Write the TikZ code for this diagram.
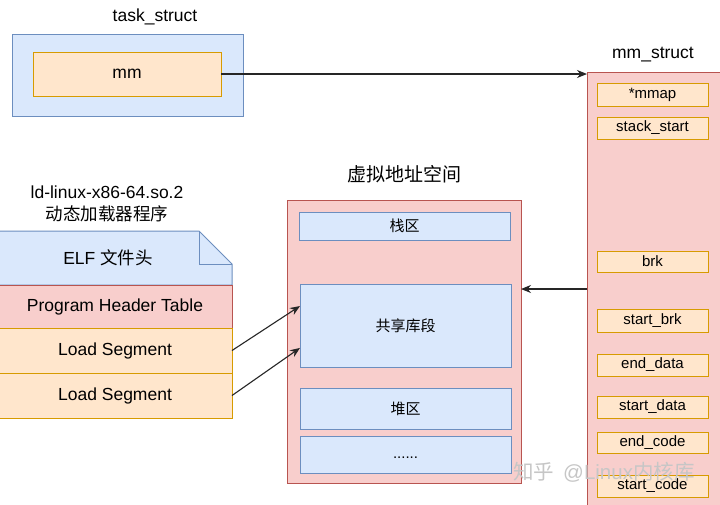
\documentclass[tikz,border=0pt]{standalone}
\usepackage{fontspec}
\setmainfont{Liberation Sans}
\newfontfamily\cjk{Noto Sans CJK SC}
\usetikzlibrary{arrows.meta,calc}
\definecolor{bfill}{HTML}{DAE8FC}
\definecolor{bdraw}{HTML}{6C8EBF}
\definecolor{ofill}{HTML}{FFE6CC}
\definecolor{odraw}{HTML}{D79B00}
\definecolor{rfill}{HTML}{F8CECC}
\definecolor{rdraw}{HTML}{B85450}
\newcommand{\bigtxt}{\fontsize{17.5}{21}\selectfont}
\newcommand{\smalltxt}{\fontsize{15}{18}\selectfont}
\newcommand{\boxat}[7]{\node[#1, minimum width={(#5-#3)*1pt}, minimum height={(#6-#4)*1pt}] (#2) at ({(#3+#5)/2},{(#4+#6)/2}) {#7};}
\newcommand{\wmtext}{{\cjk 知乎}\hspace{9pt}@Linux{\cjk 内核库}}
\begin{document}
\begin{tikzpicture}[x=1pt,y=-1pt,
  base/.style={rectangle, line width=1pt, inner sep=0pt, outer sep=0pt, text=black},
  bbox/.style={base, fill=bfill, draw=bdraw},
  obox/.style={base, fill=ofill, draw=odraw},
  rbox/.style={base, fill=rfill, draw=rdraw},
  lbl/.style={inner sep=0pt, text=black, font=\bigtxt},
  arr/.style={line width=1.1pt, draw=black!85, -{Stealth[length=10pt,width=8pt]}},
  wm/.style={inner sep=0pt, anchor=west, text=gray!45, font=\fontsize{20.5}{24}\selectfont}]
\useasboundingbox (0,0) rectangle (720,504);
\clip (0,0) rectangle (720,504);
\fill[white] (0,0) rectangle (720,504);
% task_struct
\node[lbl] (tslbl) at (155,17) {task\_struct};
\boxat{bbox}{ts}{12}{34}{243}{116}{}
\boxat{obox, font=\bigtxt}{mm}{33}{52}{221}{96}{mm}
% mm_struct
\node[lbl] (mmslbl) at (653,55) {mm\_struct};
\boxat{rbox}{mms}{587}{72}{730}{515}{}
\boxat{obox, font=\smalltxt}{f1}{597}{83}{708}{106}{*mmap}
\boxat{obox, font=\smalltxt}{f2}{597}{117}{708}{139}{stack\_start}
\boxat{obox, font=\smalltxt}{f3}{597}{251}{708}{272}{brk}
\boxat{obox, font=\smalltxt}{f4}{597}{309}{708}{332}{start\_brk}
\boxat{obox, font=\smalltxt}{f5}{597}{354}{708}{376}{end\_data}
\boxat{obox, font=\smalltxt}{f6}{597}{396}{708}{418}{start\_data}
\boxat{obox, font=\smalltxt}{f7}{597}{432}{708}{453}{end\_code}
\boxat{obox, font=\smalltxt}{f8}{597}{475}{708}{497}{start\_code}
% virtual address space
\node[lbl, font=\fontsize{19}{22}\selectfont\cjk] (vaslbl) at (404,174) {虚拟地址空间};
\boxat{rbox}{vas}{287}{200}{521}{483}{}
\boxat{bbox, font=\smalltxt\cjk}{stk}{299}{212}{510}{240}{栈区}
\boxat{bbox, font=\smalltxt\cjk}{shl}{300}{284}{511}{367}{共享库段}
\boxat{bbox, font=\smalltxt\cjk}{heap}{300}{388}{511}{429}{堆区}
\boxat{bbox, font=\smalltxt}{dots}{300}{436}{511}{473}{\vphantom{Ag}......}
% ELF file
\node[lbl] (ldlbl1) at (107,192) {ld-linux-x86-64.so.2};
\node[lbl, font=\bigtxt\cjk] (ldlbl2) at (107,214) {动态加载器程序};
\draw[line width=1pt, fill=bfill, draw=bdraw] (-2,231) -- (199,231) -- (232,264) -- (232,285) -- (-2,285) -- cycle;
\draw[line width=1pt, draw=bdraw] (199,231) -- (199,264) -- (232,264);
\node[lbl] (elf) at (108,258) {ELF {\cjk 文件头}};
\boxat{rbox, font=\bigtxt}{pht}{-2}{285}{232}{328}{Program Header Table}
\boxat{obox, font=\bigtxt}{ls1}{-2}{328}{232}{373}{Load Segment}
\boxat{obox, font=\bigtxt}{ls2}{-2}{373}{232}{418}{Load Segment}
% connectors
\draw[arr] (mm.east) -- (mm.east -| mms.west);
\coordinate (mmsout) at (587,289);
\draw[arr] (mmsout) -- (mmsout -| vas.east);
\draw[arr] (ls1.east) -- ($(shl.north west)!0.265!(shl.south west)$);
\draw[arr] (ls2.east) -- ($(shl.north west)!0.77!(shl.south west)$);
% watermark
\node[wm] (wm) at (513,472) {\wmtext};
\end{tikzpicture}
\end{document}
